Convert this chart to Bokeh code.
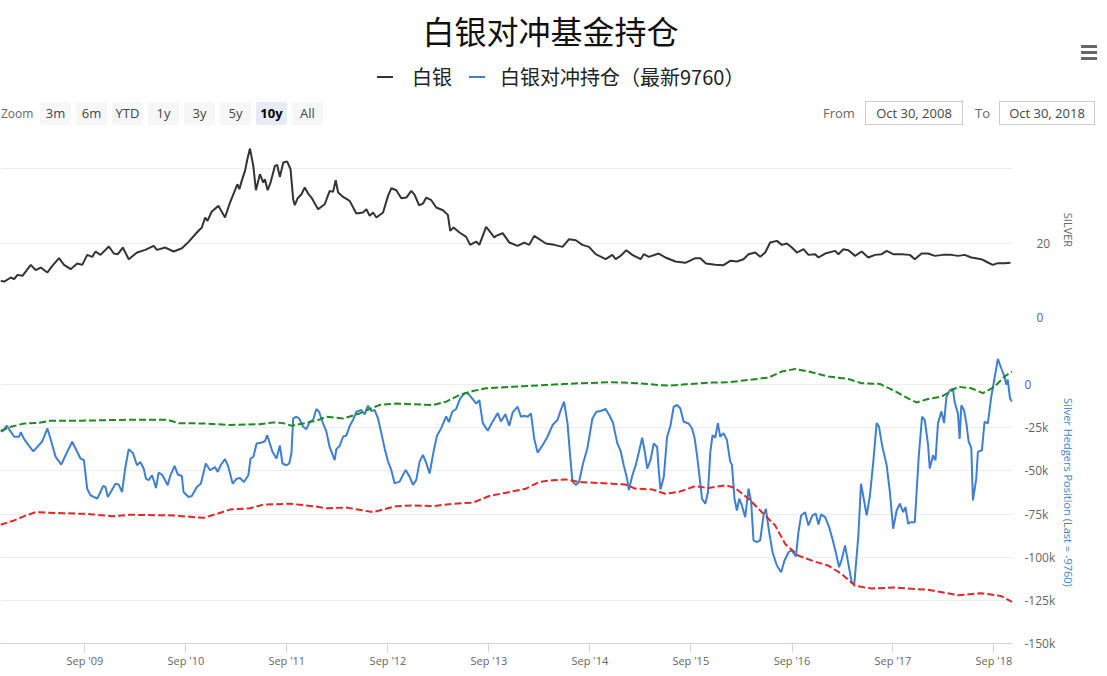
import pandas as pd
from bokeh.plotting import figure
from bokeh.models import Range1d, FixedTicker, DatetimeTickFormatter, Div
from bokeh.layouts import column
from bokeh.embed import file_html
from bokeh.resources import INLINE

# ---------------- texts ----------------
title_text = "白银对冲基金持仓"
legend_silver = "白银"
legend_hedge = "白银对冲持仓（最新9760）"
silver_axis_title = "SILVER"
hedge_axis_title = "Silver Hedgers Position (Last = -9760)"
zoom_buttons = ["3m", "6m", "YTD", "1y", "3y", "5y", "10y", "All"]
selected_button = "10y"
range_from = "Oct 30, 2008"
range_to = "Oct 30, 2018"

# ---------------- data (decimal years) ----------------
silver_t = [2008.830, 2008.867, 2008.932, 2008.965, 2008.998, 2009.047, 2009.129, 2009.178, 2009.228, 2009.294,
            2009.343, 2009.409, 2009.459, 2009.524, 2009.590, 2009.639, 2009.689, 2009.738, 2009.771, 2009.820,
            2009.903, 2009.952, 2009.992, 2010.041, 2010.100, 2010.182, 2010.264, 2010.347, 2010.380, 2010.462,
            2010.545, 2010.627, 2010.693, 2010.775, 2010.824, 2010.857, 2010.880, 2010.923, 2010.989, 2011.054,
            2011.103, 2011.143, 2011.177, 2011.196, 2011.219, 2011.252, 2011.275, 2011.301, 2011.334, 2011.360,
            2011.400, 2011.433, 2011.449, 2011.476, 2011.505, 2011.548, 2011.571, 2011.597, 2011.631, 2011.670,
            2011.703, 2011.729, 2011.745, 2011.772, 2011.811, 2011.844, 2011.877, 2011.910, 2011.976, 2012.041,
            2012.091, 2012.124, 2012.150, 2012.174, 2012.223, 2012.288, 2012.354, 2012.420, 2012.453, 2012.486,
            2012.519, 2012.552, 2012.618, 2012.667, 2012.700, 2012.749, 2012.798, 2012.848, 2012.897, 2012.930,
            2012.973, 2013.013, 2013.045, 2013.095, 2013.144, 2013.210, 2013.259, 2013.282, 2013.315, 2013.374,
            2013.440, 2013.480, 2013.539, 2013.571, 2013.638, 2013.670, 2013.719, 2013.736, 2013.802, 2013.868,
            2013.950, 2014.016, 2014.065, 2014.114, 2014.230, 2014.312, 2014.395, 2014.460, 2014.526, 2014.592,
            2014.657, 2014.723, 2014.822, 2014.888, 2014.921, 2014.970, 2015.026, 2015.086, 2015.168, 2015.200,
            2015.250, 2015.348, 2015.414, 2015.513, 2015.612, 2015.711, 2015.760, 2015.816, 2015.908, 2015.990,
            2016.056, 2016.122, 2016.187, 2016.237, 2016.303, 2016.352, 2016.402, 2016.451, 2016.517, 2016.566,
            2016.616, 2016.665, 2016.715, 2016.780, 2016.829, 2016.895, 2016.928, 2016.994, 2017.093, 2017.125,
            2017.175, 2017.224, 2017.290, 2017.356, 2017.421, 2017.488, 2017.554, 2017.603, 2017.668, 2017.751,
            2017.833, 2017.882, 2017.949, 2018.014, 2018.080, 2018.162, 2018.245, 2018.310, 2018.376, 2018.442,
            2018.541, 2018.606, 2018.655, 2018.705, 2018.771, 2018.830]
silver_v = [9.84, 9.66, 10.74, 10.29, 11.45, 11.19, 14.14, 12.71, 13.42, 12.08,
            13.87, 15.93, 14.14, 12.98, 14.50, 14.14, 16.82, 16.29, 17.72, 16.82,
            19.06, 17.18, 17.00, 18.79, 15.66, 17.45, 18.17, 19.24, 18.17, 18.79,
            17.72, 18.61, 20.31, 22.82, 24.16, 26.85, 25.95, 28.46, 29.98, 26.85,
            30.87, 33.56, 35.79, 34.45, 36.69, 39.37, 42.51, 45.37, 40.71, 34.18,
            38.48, 36.24, 37.14, 34.18, 36.24, 40.71, 40.98, 37.76, 41.61, 41.88,
            39.82, 31.77, 30.16, 31.95, 33.11, 34.90, 33.29, 32.21, 29.08, 30.42,
            34.00, 33.74, 36.87, 33.56, 32.39, 31.32, 27.92, 28.19, 29.08, 27.30,
            28.19, 26.85, 28.19, 32.66, 34.72, 34.18, 32.04, 32.21, 34.00, 32.93,
            30.16, 30.60, 32.21, 31.50, 29.53, 28.81, 27.56, 23.27, 24.16, 22.82,
            21.65, 19.51, 20.40, 19.51, 24.34, 23.27, 21.48, 21.92, 22.64, 20.13,
            19.24, 20.13, 19.51, 21.92, 19.87, 19.51, 18.97, 21.03, 20.76, 19.51,
            18.97, 17.00, 15.66, 16.82, 15.66, 16.55, 18.08, 16.82, 15.66, 17.00,
            16.29, 17.18, 16.11, 15.03, 14.68, 15.93, 15.93, 14.50, 14.14, 14.05,
            15.21, 15.03, 15.66, 17.00, 17.45, 16.29, 17.45, 20.13, 20.58, 19.51,
            19.87, 18.79, 17.45, 18.34, 16.82, 17.00, 16.11, 17.18, 17.90, 17.00,
            18.34, 18.08, 16.55, 17.72, 16.11, 16.82, 17.00, 17.90, 17.00, 17.00,
            16.82, 15.66, 17.18, 17.18, 16.55, 16.82, 16.82, 16.55, 16.82, 16.11,
            15.66, 14.77, 14.14, 14.59, 14.59, 14.70]

# hedgers net position, thousands of contracts
hedge_t = [2008.830, 2008.849, 2008.892, 2008.931, 2008.965, 2009.014, 2009.030, 2009.064, 2009.113, 2009.155,
           2009.195, 2009.244, 2009.294, 2009.326, 2009.376, 2009.432, 2009.474, 2009.540, 2009.590, 2009.622,
           2009.656, 2009.688, 2009.721, 2009.787, 2009.820, 2009.846, 2009.869, 2009.893, 2009.935, 2009.968,
           2010.001, 2010.034, 2010.067, 2010.100, 2010.143, 2010.182, 2010.215, 2010.248, 2010.271, 2010.298,
           2010.330, 2010.353, 2010.370, 2010.396, 2010.429, 2010.461, 2010.485, 2010.511, 2010.554, 2010.587,
           2010.626, 2010.643, 2010.692, 2010.725, 2010.774, 2010.814, 2010.863, 2010.906, 2010.955, 2010.982,
           2011.011, 2011.054, 2011.087, 2011.130, 2011.169, 2011.202, 2011.241, 2011.285, 2011.307, 2011.334,
           2011.367, 2011.416, 2011.449, 2011.472, 2011.498, 2011.525, 2011.564, 2011.597, 2011.623, 2011.663,
           2011.690, 2011.712, 2011.729, 2011.762, 2011.788, 2011.828, 2011.860, 2011.893, 2011.926, 2011.959,
           2011.986, 2012.025, 2012.058, 2012.090, 2012.140, 2012.156, 2012.189, 2012.223, 2012.255, 2012.288,
           2012.321, 2012.354, 2012.403, 2012.436, 2012.469, 2012.502, 2012.535, 2012.568, 2012.601, 2012.633,
           2012.667, 2012.699, 2012.732, 2012.781, 2012.841, 2012.880, 2012.914, 2012.946, 2012.979, 2013.012,
           2013.045, 2013.078, 2013.117, 2013.151, 2013.193, 2013.242, 2013.269, 2013.302, 2013.341, 2013.381,
           2013.423, 2013.457, 2013.499, 2013.539, 2013.571, 2013.605, 2013.654, 2013.703, 2013.753, 2013.785,
           2013.828, 2013.867, 2013.901, 2013.950, 2013.983, 2014.015, 2014.049, 2014.082, 2014.114, 2014.148,
           2014.197, 2014.246, 2014.296, 2014.345, 2014.378, 2014.410, 2014.444, 2014.467, 2014.493, 2014.526,
           2014.558, 2014.598, 2014.641, 2014.691, 2014.730, 2014.773, 2014.822, 2014.861, 2014.894, 2014.937,
           2014.970, 2015.003, 2015.036, 2015.052, 2015.085, 2015.118, 2015.151, 2015.184, 2015.210, 2015.234,
           2015.266, 2015.299, 2015.332, 2015.348, 2015.365, 2015.398, 2015.431, 2015.464, 2015.496, 2015.530,
           2015.562, 2015.595, 2015.644, 2015.678, 2015.703, 2015.727, 2015.743, 2015.777, 2015.809, 2015.836,
           2015.859, 2015.881, 2015.908, 2015.934, 2015.957, 2015.990, 2016.023, 2016.056, 2016.073, 2016.098,
           2016.122, 2016.145, 2016.171, 2016.204, 2016.237, 2016.263, 2016.286, 2016.319, 2016.352, 2016.385,
           2016.408, 2016.441, 2016.474, 2016.517, 2016.559, 2016.592, 2016.632, 2016.665, 2016.705, 2016.730,
           2016.757, 2016.796, 2016.829, 2016.868, 2016.902, 2016.928, 2016.954, 2016.994, 2017.033, 2017.066,
           2017.099, 2017.132, 2017.159, 2017.191, 2017.224, 2017.257, 2017.283, 2017.323, 2017.349, 2017.382,
           2017.405, 2017.438, 2017.471, 2017.504, 2017.527, 2017.560, 2017.603, 2017.635, 2017.668, 2017.702,
           2017.734, 2017.767, 2017.790, 2017.816, 2017.843, 2017.882, 2017.922, 2017.954, 2017.981, 2018.014,
           2018.030, 2018.063, 2018.087, 2018.112, 2018.146, 2018.172, 2018.195, 2018.228, 2018.260, 2018.277,
           2018.310, 2018.326, 2018.343, 2018.369, 2018.393, 2018.415, 2018.442, 2018.458, 2018.491, 2018.507,
           2018.547, 2018.573, 2018.606, 2018.639, 2018.672, 2018.705, 2018.738, 2018.771, 2018.788, 2018.803,
           2018.825, 2018.845]
hedge_v = [-26.3, -27.2, -23.8, -27.2, -30.2, -30.2, -27.6, -31.6, -35.5, -38.6,
           -36.1, -32.8, -25.4, -31.6, -41.9, -46.3, -40.9, -33.1, -39.0, -42.8,
           -43.8, -60.3, -64.1, -66.1, -62.2, -58.7, -59.3, -65.1, -60.9, -57.4,
           -57.9, -62.2, -47.7, -37.4, -39.8, -46.7, -44.8, -48.6, -54.5, -55.4,
           -52.5, -56.4, -59.9, -51.0, -52.1, -55.4, -58.3, -52.9, -47.1, -52.1,
           -52.9, -62.2, -65.1, -64.5, -59.3, -57.4, -45.7, -49.6, -47.7, -50.6,
           -46.7, -43.2, -47.7, -57.4, -54.5, -54.1, -56.4, -52.5, -42.8, -41.9,
           -34.1, -33.5, -32.8, -29.3, -34.1, -39.0, -42.8, -35.3, -45.7, -46.7,
           -45.7, -39.8, -19.6, -18.6, -19.6, -24.4, -25.8, -21.5, -20.5, -14.1,
           -15.7, -22.5, -27.2, -36.1, -43.8, -37.4, -35.5, -30.2, -29.5, -24.0,
           -20.5, -15.7, -14.7, -17.2, -12.2, -15.3, -14.7, -19.6, -28.1, -36.8,
           -44.6, -49.4, -57.2, -56.2, -49.4, -53.3, -58.1, -55.2, -44.6, -40.7,
           -45.5, -51.5, -38.8, -29.6, -25.2, -18.4, -21.7, -15.7, -14.1, -8.0,
           -5.0, -5.0, -8.0, -10.9, -9.0, -22.3, -26.7, -21.3, -16.5, -21.3,
           -17.1, -23.8, -16.1, -12.8, -18.6, -18.0, -18.6, -16.7, -31.2, -39.4,
           -35.1, -30.2, -23.4, -20.5, -14.7, -9.9, -22.3, -38.8, -56.2, -58.1,
           -56.6, -45.7, -36.8, -19.6, -15.7, -15.3, -14.1, -18.0, -21.9, -33.9,
           -38.4, -47.1, -54.9, -61.1, -52.9, -47.1, -39.2, -30.8, -39.0, -48.6,
           -43.8, -34.1, -36.1, -49.4, -60.7, -53.5, -30.2, -23.8, -12.8, -11.8,
           -13.8, -21.5, -22.5, -25.4, -30.8, -40.9, -48.6, -66.1, -69.0, -62.2,
           -39.0, -29.3, -30.8, -22.3, -30.2, -28.1, -32.0, -44.6, -46.5, -66.1,
           -72.9, -66.1, -70.0, -76.8, -60.3, -68.0, -90.3, -91.3, -90.3, -75.8,
           -71.9, -85.5, -97.1, -104.8, -108.7, -101.9, -97.1, -96.1, -99.6, -85.5,
           -75.8, -73.9, -81.6, -75.8, -74.8, -81.0, -75.2, -76.8, -82.6, -89.3,
           -97.1, -105.8, -101.0, -93.2, -103.9, -114.5, -115.5, -87.4, -57.4, -68.0,
           -75.8, -64.1, -44.6, -22.3, -24.2, -35.9, -46.5, -62.2, -83.5, -72.9,
           -69.0, -73.9, -71.0, -80.6, -79.7, -79.7, -40.9, -18.6, -20.5, -35.1,
           -48.6, -40.9, -43.8, -22.3, -15.5, -22.3, -7.2, -3.3, -2.3, -10.1,
           -16.9, -31.4, -12.0, -14.7, -22.3, -32.9, -36.8, -67.1, -54.5, -39.0,
           -38.0, -21.5, -22.5, -7.2, 3.7, 14.9, 9.5, 4.7, 0.0, 2.9,
           -8.0, -9.76]

# upper band (green) and lower band (red), thousands of contracts
upper_t = [2008.830, 2008.931, 2009.064, 2009.195, 2009.326, 2009.622, 2010.116, 2010.478, 2010.594, 2010.841,
           2011.103, 2011.399, 2011.532, 2011.630, 2011.712, 2011.828, 2011.959, 2012.058, 2012.223, 2012.387,
           2012.485, 2012.584, 2012.749, 2012.914, 2013.111, 2013.242, 2013.374, 2013.506, 2013.637, 2013.901,
           2014.230, 2014.558, 2014.888, 2015.151, 2015.348, 2015.447, 2015.612, 2015.875, 2016.039, 2016.237,
           2016.434, 2016.566, 2016.698, 2016.829, 2017.026, 2017.224, 2017.356, 2017.537, 2017.685, 2017.816,
           2017.899, 2018.014, 2018.146, 2018.310, 2018.442, 2018.557, 2018.672, 2018.771, 2018.845]
upper_v = [-26.9, -24.4, -22.5, -22.2, -20.9, -20.9, -20.3, -20.3, -22.3, -22.5,
           -23.4, -22.9, -21.9, -22.3, -23.8, -22.5, -20.9, -18.6, -19.6, -16.7,
           -14.1, -11.8, -10.9, -11.4, -11.8, -9.9, -6.0, -3.7, -2.1, -1.2,
           -0.2, 0.8, 1.4, 0.8, -0.2, -0.6, 0.2, 1.2, 1.4, 2.7,
           4.1, 7.6, 9.1, 7.6, 4.7, 3.3, 0.8, 0.4, -3.7, -8.0,
           -10.3, -8.3, -7.0, -1.2, -2.1, -4.9, -1.2, 4.7, 7.6]
lower_t = [2008.830, 2008.965, 2009.064, 2009.178, 2009.458, 2009.688, 2009.935, 2010.116, 2010.544, 2010.841,
           2010.972, 2011.103, 2011.301, 2011.433, 2011.696, 2011.926, 2012.058, 2012.255, 2012.519, 2012.749,
           2012.914, 2013.111, 2013.308, 2013.506, 2013.670, 2013.835, 2014.032, 2014.163, 2014.296, 2014.427,
           2014.558, 2014.888, 2015.019, 2015.118, 2015.283, 2015.414, 2015.546, 2015.710, 2015.842, 2016.007,
           2016.105, 2016.237, 2016.369, 2016.500, 2016.599, 2016.730, 2016.895, 2017.026, 2017.159, 2017.290,
           2017.455, 2017.685, 2018.014, 2018.310, 2018.541, 2018.738, 2018.845]
lower_v = [-81.2, -78.7, -76.2, -73.9, -74.5, -74.9, -76.2, -75.4, -75.8, -77.2,
           -74.9, -72.4, -71.6, -69.5, -69.0, -70.4, -71.6, -71.2, -73.9, -70.4,
           -70.0, -70.4, -69.0, -68.4, -64.5, -62.6, -60.3, -56.4, -55.4, -54.9,
           -56.4, -57.4, -57.9, -60.3, -60.7, -63.2, -62.2, -58.8, -59.9, -58.3,
           -59.9, -66.1, -73.9, -81.6, -92.3, -99.1, -102.6, -104.9, -109.8, -116.6,
           -118.1, -117.6, -118.9, -122.0, -120.9, -122.5, -125.9]

silver_ticks = [0, 20, 40]
silver_tick_labels = ["0", "20", ""]
hedge_ticks = [25, 0, -25, -50, -75, -100, -125, -150]
hedge_tick_labels = ["", "0", "-25k", "-50k", "-75k", "-100k", "-125k", "-150k"]
x_tick_dates = ["2009-09-01", "2010-09-01", "2011-09-01", "2012-09-01", "2013-09-01",
                "2014-09-01", "2015-09-01", "2016-09-01", "2017-09-01", "2018-09-01"]

# ---------------- helpers ----------------
def to_ts(t):
    y = int(t)
    a = pd.Timestamp(year=y, month=1, day=1)
    b = pd.Timestamp(year=y + 1, month=1, day=1)
    return a + (b - a) * (t - y)

def dates(ts):
    return [to_ts(t) for t in ts]

BLACK = "#333333"
BLUE = "#3f7fcf"
GREEN = "#1f8a1f"
RED = "#e02828"
GRID = "#ededed"
UI_FONT = "Open Sans"
CJK_FONT = "Noto Sans CJK SC"

x_range = Range1d(to_ts(2008.83), to_ts(2018.85))

# ---------------- header (title, legend, range selector) ----------------
def box(left, top, width, height, inner="", style=""):
    return (f'<div style="position:absolute;left:{left}px;top:{top}px;width:{width}px;'
            f'height:{height}px;{style}">{inner}</div>')

parts = []
parts.append(box(0, 6, 1091, 38, title_text,
                 f"text-align:center;font-family:'{CJK_FONT}';font-size:32px;line-height:38px;color:#111;"))
parts.append(box(372, 71, 16, 2, "", f"background:{BLACK};"))
parts.append(box(407, 59, 60, 26, legend_silver,
                 f"font-family:'{CJK_FONT}';font-size:20px;line-height:26px;color:#222;white-space:nowrap;"))
parts.append(box(464, 71, 16, 2, "", f"background:{BLUE};"))
parts.append(box(495, 59, 300, 26, legend_hedge,
                 f"font-family:'{CJK_FONT}';font-size:20px;line-height:26px;color:#222;white-space:nowrap;"))
parts.append(box(-4, 97, 34, 23, "Zoom",
                 f"font-family:'{UI_FONT}';font-size:12px;line-height:23px;color:#666;"))
for i, lab in enumerate(zoom_buttons):
    sel = lab == selected_button
    bg = "#e6ebf5" if sel else "#f7f7f7"
    fw = "bold" if sel else "normal"
    col = "#000" if sel else "#444"
    parts.append(box(35 + 36 * i, 97, 31, 23, lab,
                     f"background:{bg};text-align:center;font-family:'{UI_FONT}';font-size:13px;"
                     f"line-height:23px;color:{col};font-weight:{fw};border-radius:2px;"))
parts.append(box(818, 97, 40, 23, "From",
                 f"font-family:'{UI_FONT}';font-size:13px;line-height:23px;color:#666;"))
parts.append(box(860, 96, 98, 24, range_from,
                 f"box-sizing:border-box;border:1px solid #cccccc;text-align:center;font-family:'{UI_FONT}';"
                 f"font-size:13px;line-height:22px;color:#444;"))
parts.append(box(970, 97, 20, 23, "To",
                 f"font-family:'{UI_FONT}';font-size:13px;line-height:23px;color:#666;"))
parts.append(box(994, 96, 96, 24, range_to,
                 f"box-sizing:border-box;border:1px solid #cccccc;text-align:center;font-family:'{UI_FONT}';"
                 f"font-size:13px;line-height:22px;color:#444;"))
for yy in (40, 46, 52):
    parts.append(box(1076, yy, 16, 3, "", "background:#666;"))

header_html = ('<div style="position:relative;width:1091px;height:132px;overflow:visible;">'
               + "".join(parts) + "</div>")
header = Div(text=header_html, width=1091, height=132)

# ---------------- top pane: silver ----------------
p1 = figure(frame_width=1012, frame_height=175, x_range=x_range, y_range=Range1d(0, 47),
            x_axis_type="datetime", x_axis_location=None, y_axis_location="right",
            output_backend="svg", toolbar_location=None,
            min_border_left=0, min_border_right=0, min_border_top=0, min_border_bottom=12,
            outline_line_color=None)
p1.line(dates(silver_t), silver_v, color=BLACK, line_width=2)
p1.xgrid.visible = False
p1.ygrid.grid_line_color = GRID
ya = p1.yaxis[0]
ya.ticker = FixedTicker(ticks=silver_ticks)
ya.major_label_overrides = dict(zip(silver_ticks, silver_tick_labels))
ya.axis_line_color = None
ya.major_tick_line_color = None
ya.minor_tick_line_color = None
ya.major_label_text_color = "#666666"
ya.major_label_text_font = UI_FONT
ya.major_label_text_font_size = "12px"
ya.major_label_standoff = 18
ya.axis_label = silver_axis_title
ya.axis_label_text_color = "#666666"
ya.axis_label_text_font = UI_FONT
ya.axis_label_text_font_size = "11px"
ya.axis_label_text_font_style = "normal"
ya.axis_label_standoff = 8

# ---------------- bottom pane: hedgers ----------------
p2 = figure(frame_width=1012, frame_height=302, x_range=x_range, y_range=Range1d(-150, 25),
            x_axis_type="datetime", y_axis_location="right",
            output_backend="svg", toolbar_location=None,
            min_border_left=0, min_border_right=0, min_border_top=12, min_border_bottom=0,
            outline_line_color=None)
p2.line(dates(hedge_t), hedge_v, color=BLUE, line_width=2)
p2.line(dates(upper_t), upper_v, color=GREEN, line_width=2, line_dash="7 3")
p2.line(dates(lower_t), lower_v, color=RED, line_width=2, line_dash="7 3")
p2.xgrid.visible = False
p2.ygrid.grid_line_color = GRID
yb = p2.yaxis[0]
yb.ticker = FixedTicker(ticks=hedge_ticks)
yb.major_label_overrides = dict(zip(hedge_ticks, hedge_tick_labels))
yb.axis_line_color = None
yb.major_tick_line_color = None
yb.minor_tick_line_color = None
yb.major_label_text_color = "#666666"
yb.major_label_text_font = UI_FONT
yb.major_label_text_font_size = "12px"
yb.major_label_standoff = 6
yb.axis_label = hedge_axis_title
yb.axis_label_text_color = "#4a7fc4"
yb.axis_label_text_font = UI_FONT
yb.axis_label_text_font_size = "11px"
yb.axis_label_text_font_style = "normal"
yb.axis_label_standoff = 3

xb = p2.xaxis[0]
xb.ticker = FixedTicker(ticks=[pd.Timestamp(d).value // 10**6 for d in x_tick_dates])
xb.formatter = DatetimeTickFormatter(years="%b '%y", months="%b '%y", days="%b '%y")
xb.axis_line_color = "#ccd6eb"
xb.major_tick_line_color = "#ccd6eb"
xb.major_tick_out = 9
xb.major_tick_in = 0
xb.minor_tick_line_color = None
xb.major_label_text_color = "#666666"
xb.major_label_text_font = UI_FONT
xb.major_label_text_font_size = "11px"
xb.major_label_standoff = 0

layout = column(header, p1, p2)
open("out.html", "w").write(file_html(layout, INLINE))
